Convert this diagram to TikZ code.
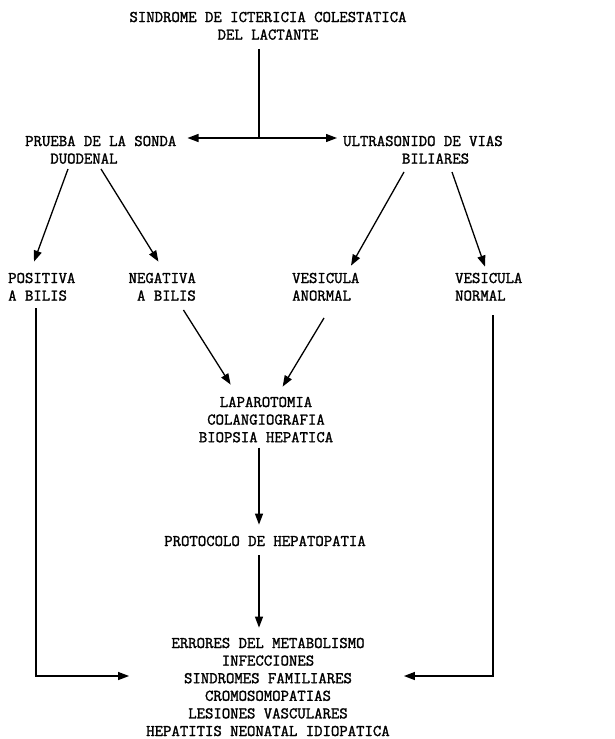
\documentclass[tikz,border=0pt]{standalone}
\usepackage{fontspec}
\newfontfamily\maquina{Latin Modern Mono}[FakeBold=1.6]
\usetikzlibrary{arrows.meta,calc}
\begin{document}
\begin{tikzpicture}[x=1pt,y=-1pt,
  texto/.style={font=\maquina\bfseries\fontsize{16.3}{17.6}\selectfont, inner sep=0pt},
  linea/.style={line width=1.3pt},
  flecha/.style={linea, -{Triangle[length=11pt,width=8pt]}}]
  \useasboundingbox (0,0) rectangle (615,739);
  \node [texto, align=center, anchor=base] (sindrome) at (268,39.6)
        {SINDROME DE ICTERICIA COLESTATICA\\DEL LACTANTE};
  \node [texto, align=left, anchor=base west] (prueba) at (25,163.6)
        {PRUEBA DE LA SONDA\\\hphantom{DUO}DUODENAL};
  \node [texto, align=left, anchor=base west] (ultra) at (343,163.6)
        {ULTRASONIDO DE VIAS\\\hphantom{ULTRASO}BILIARES};
  \node [texto, align=left, anchor=base west] (positiva) at (8,300.6) {POSITIVA\\A BILIS};
  \node [texto, align=right, anchor=base east] (negativa) at (196,300.6) {NEGATIVA\\A BILIS};
  \node [texto, align=left, anchor=base west] (anormal) at (292,300.6) {VESICULA\\ANORMAL};
  \node [texto, align=left, anchor=base west] (normal) at (455,300.6) {VESICULA\\NORMAL};
  \node [texto, align=center, anchor=base] (lap) at (266,442.2)
        {LAPAROTOMIA\\COLANGIOGRAFIA\\BIOPSIA HEPATICA};
  \node [texto, anchor=base] (protocolo) at (265,546) {PROTOCOLO DE HEPATOPATIA};
  \node [texto, align=center, anchor=base] (lista) at (268,736)
        {ERRORES DEL METABOLISMO\\INFECCIONES\\SINDROMES FAMILIARES\\
         CROMOSOMOPATIAS\\LESIONES VASCULARES\\HEPATITIS NEONATAL IDIOPATICA};
  \coordinate (split) at (259,138);

  \draw [linea] ([yshift=-9pt]sindrome.south -| split) -- (split);
  \draw [flecha] (split) -- ([xshift=11pt]split -| prueba.east);
  \draw [flecha] (split) -- ([xshift=-6pt]split -| ultra.west);
  \draw [flecha] ($(prueba.south west)+(43,5)$) -- ($(positiva.north west)+(26,-11)$);
  \draw [flecha] ($(prueba.south west)+(76,5)$) -- ($(negativa.north west)+(30,-11)$);
  \draw [flecha] ($(ultra.south west)+(61,8)$) -- ($(anormal.north west)+(59,-7)$);
  \draw [flecha] ($(ultra.south west)+(109,8)$) -- ($(normal.north west)+(30,-6)$);
  \draw [flecha] ($(negativa.south west)+(55,9)$) -- ($(lap.north west)+(32,-12)$);
  \draw [flecha] ($(anormal.south west)+(32,17)$) -- ($(lap.north west)+(84,-10)$);
  \draw [flecha] ([yshift=-5pt]lap.south -| split) -- ([yshift=11pt]protocolo.north -| split);
  \draw [flecha] ([yshift=-9pt]protocolo.south -| split) -- ([yshift=10pt]lista.north -| split);
  \draw [flecha] ($(positiva.south west)+(28,7)$) |- ([xshift=-17pt,yshift=11pt]lista.west);
  \draw [flecha] ($(normal.south west)+(38,14)$) |- ([xshift=14pt,yshift=11pt]lista.east);
\end{tikzpicture}
\end{document}
